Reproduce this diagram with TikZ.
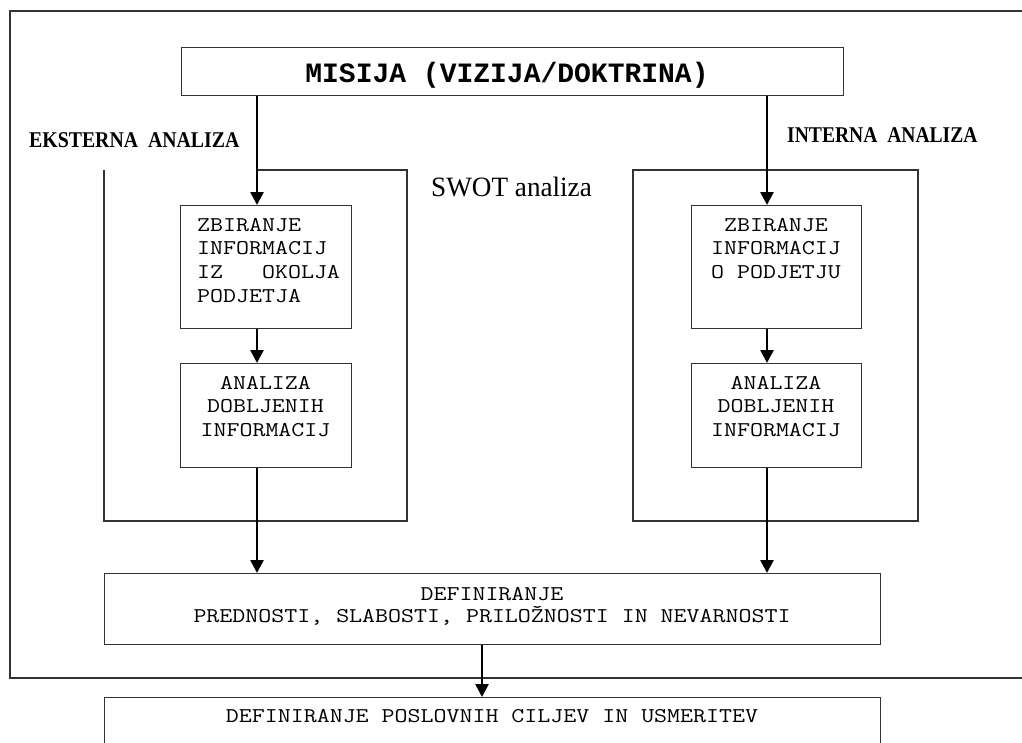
\documentclass[tikz,border=0pt]{standalone}
\usepackage{fontspec}
\usepackage{graphicx}
\setmainfont{Liberation Serif}
\newfontfamily\monofnt{Latin Modern Mono}[FakeStretch=1.2]
\newfontfamily\monobold{Liberation Mono}
\usetikzlibrary{arrows.meta}
\definecolor{linec}{HTML}{333333}
\tikzset{
  frameline/.style={draw=linec, line width=1.1pt},
  box/.style={draw=linec, line width=1.1pt, rectangle, inner sep=0pt, anchor=north west},
  boxtext/.style={font=\monofnt\fontsize{21}{23.8}\selectfont, inner sep=0pt},
  headtext/.style={font=\bfseries\fontsize{22.5}{24}\selectfont, inner sep=0pt, anchor=base west},
  flow/.style={-{Triangle[length=13pt,width=13pt]}, line width=2.6pt, black},
}
\begin{document}
\begin{tikzpicture}[x=1pt,y=-1pt]
\useasboundingbox (0,0) rectangle (1022,742);
\clip (0,0) rectangle (1022,742);
\fill[white] (0,0) rectangle (1022,742);
% outer frame (cut at right and bottom)
\draw[frameline] (1040,11) -- (10,11) -- (10,678) -- (1040,678);
% guide coordinates for arrow columns
\coordinate (lx) at (257,0);
\coordinate (rx) at (767,0);
\coordinate (cx) at (482,0);
% mission
\node[box, minimum width=662pt, minimum height=48pt] (mis) at (181,47) {};
\node[font=\monobold\bfseries\fontsize{28}{30}\selectfont, inner sep=0pt, anchor=base] (mist) at (507,82) {MISIJA (VIZIJA/DOKTRINA)};
% headings
\node[headtext] (eks) at (29,147) {\scalebox{0.88}[1]{EKSTERNA\ \ ANALIZA}};
\node[headtext] (int) at (787,142) {\scalebox{0.87}[1]{INTERNA\ \ ANALIZA}};
\node[font=\fontsize{28}{30}\selectfont, inner sep=0pt, anchor=base west] (swot) at (431,196) {\scalebox{0.97}[1]{SWOT analiza}};
% left frame
\draw[frameline] (lx |- 0,170) -- (407,170) -- (407,521) -- (104,521) -- (104,170);
% right frame
\draw[frameline] (633,170) rectangle (918,521);
% left boxes
\node[box, minimum width=171pt, minimum height=123pt] (lz) at (180,205) {};
\node[boxtext, align=left, anchor=base west] (lzt) at (197,302.4) {ZBIRANJE\\INFORMACIJ\\IZ\ \ \ OKOLJA\\PODJETJA};
\node[box, minimum width=171pt, minimum height=104pt] (la) at (180,363) {};
\node[boxtext, align=center, anchor=base] (lat) at (265.5,436.6) {ANALIZA\\DOBLJENIH\\INFORMACIJ};
% right boxes
\node[box, minimum width=170pt, minimum height=123pt] (rz) at (691,205) {};
\node[boxtext, align=center, anchor=base] (rzt) at (776,278.6) {ZBIRANJE\\INFORMACIJ\\O PODJETJU};
\node[box, minimum width=170pt, minimum height=104pt] (ra) at (691,363) {};
\node[boxtext, align=center, anchor=base] (rat) at (776,436.6) {ANALIZA\\DOBLJENIH\\INFORMACIJ};
% defining box
\node[box, minimum width=776pt, minimum height=71pt] (def) at (104,573) {};
\node[boxtext, align=center, anchor=base, font=\monofnt\fontsize{21}{22}\selectfont] (deft) at (492,622) {DEFINIRANJE\\PREDNOSTI, SLABOSTI, PRILOŽNOSTI IN NEVARNOSTI};
% last box (cut at bottom)
\node[box, minimum width=776pt, minimum height=80pt] (cil) at (104,697) {};
\node[boxtext, anchor=base] (cilt) at (492,722) {DEFINIRANJE POSLOVNIH CILJEV IN USMERITEV};
% arrows
\draw[flow] (mis.south -| lx) -- (lz.north -| lx);
\draw[flow] (mis.south -| rx) -- (rz.north -| rx);
\draw[flow] (lz.south -| lx) -- (la.north -| lx);
\draw[flow] (rz.south -| rx) -- (ra.north -| rx);
\draw[flow] (la.south -| lx) -- (def.north -| lx);
\draw[flow] (ra.south -| rx) -- (def.north -| rx);
\draw[flow] (def.south -| cx) -- (cil.north -| cx);
\end{tikzpicture}
\end{document}
